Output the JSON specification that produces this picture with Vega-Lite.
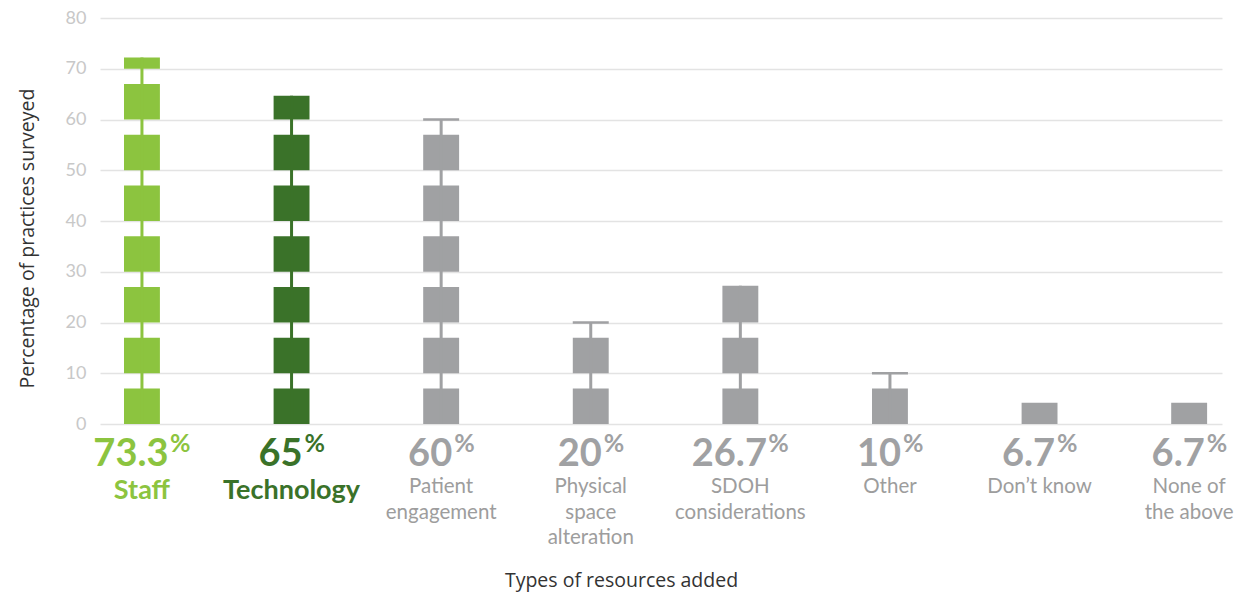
{
  "$schema": "https://vega.github.io/schema/vega-lite/v6.json",
  "autosize": "none",
  "width": 1122,
  "height": 406,
  "padding": {"left": 100, "top": 18, "right": 31, "bottom": 168},
  "background": "white",
  "config": {
    "view": {"stroke": null},
    "axisY": {"grid": true, "gridColor": "#e3e3e3", "gridWidth": 1.5, "domain": false, "ticks": false, "labelPadding": 14, "labelFont": "Lato", "labelFontSize": 18, "labelColor": "#c8c8c8", "titleFont": "Open Sans", "titleFontSize": 19.5, "titleFontWeight": "normal", "titleColor": "#333333", "titleAngle": -90, "titleX": -73, "titleY": 220, "titleAlign": "center", "titleBaseline": "middle"},
    "axisX": {"labels": false, "ticks": false, "domain": false, "grid": false, "titleFont": "Open Sans", "titleFontSize": 19.5, "titleFontWeight": "normal", "titleColor": "#333333", "titleX": 521, "titleY": 156, "titleAlign": "center", "titleBaseline": "middle"}
  },
  "datasets": {
    "cats": [
      {"cat": "Staff", "pct": "73.3", "name": "Staff"},
      {"cat": "Technology", "pct": "65", "name": "Technology"},
      {"cat": "Patient engagement", "pct": "60", "name": "Patient\nengagement"},
      {"cat": "Physical space alteration", "pct": "20", "name": "Physical\nspace\nalteration"},
      {"cat": "SDOH considerations", "pct": "26.7", "name": "SDOH\nconsiderations"},
      {"cat": "Other", "pct": "10", "name": "Other"},
      {"cat": "Don’t know", "pct": "6.7", "name": "Don’t know"},
      {"cat": "None of the above", "pct": "6.7", "name": "None of\nthe above"}
    ],
    "blocks": [
      {"cat": "Staff", "lo": 0, "hi": 7}, {"cat": "Staff", "lo": 10, "hi": 17}, {"cat": "Staff", "lo": 20, "hi": 27},
      {"cat": "Staff", "lo": 30, "hi": 37}, {"cat": "Staff", "lo": 40, "hi": 47}, {"cat": "Staff", "lo": 50, "hi": 57},
      {"cat": "Staff", "lo": 60, "hi": 67}, {"cat": "Staff", "lo": 70, "hi": 72.2},
      {"cat": "Technology", "lo": 0, "hi": 7}, {"cat": "Technology", "lo": 10, "hi": 17}, {"cat": "Technology", "lo": 20, "hi": 27},
      {"cat": "Technology", "lo": 30, "hi": 37}, {"cat": "Technology", "lo": 40, "hi": 47}, {"cat": "Technology", "lo": 50, "hi": 57},
      {"cat": "Technology", "lo": 60, "hi": 64.7},
      {"cat": "Patient engagement", "lo": 0, "hi": 7}, {"cat": "Patient engagement", "lo": 10, "hi": 17}, {"cat": "Patient engagement", "lo": 20, "hi": 27},
      {"cat": "Patient engagement", "lo": 30, "hi": 37}, {"cat": "Patient engagement", "lo": 40, "hi": 47}, {"cat": "Patient engagement", "lo": 50, "hi": 57},
      {"cat": "Physical space alteration", "lo": 0, "hi": 7}, {"cat": "Physical space alteration", "lo": 10, "hi": 17},
      {"cat": "SDOH considerations", "lo": 0, "hi": 7}, {"cat": "SDOH considerations", "lo": 10, "hi": 17}, {"cat": "SDOH considerations", "lo": 20, "hi": 27.25},
      {"cat": "Other", "lo": 0, "hi": 7},
      {"cat": "Don’t know", "lo": 0, "hi": 4.2},
      {"cat": "None of the above", "lo": 0, "hi": 4.2}
    ],
    "stems": [
      {"cat": "Staff", "top": 72.2},
      {"cat": "Technology", "top": 64.7},
      {"cat": "Patient engagement", "top": 60},
      {"cat": "Physical space alteration", "top": 20},
      {"cat": "SDOH considerations", "top": 27.25},
      {"cat": "Other", "top": 10}
    ],
    "caps": [
      {"cat": "Patient engagement", "value": 60},
      {"cat": "Physical space alteration", "value": 20},
      {"cat": "Other", "value": 10}
    ]
  },
  "layer": [
    {
      "data": {"name": "blocks"},
      "mark": {"type": "bar"},
      "encoding": {
        "x": {
          "field": "cat", "type": "nominal", "title": "Types of resources added",
          "scale": {"domain": ["Staff", "Technology", "Patient engagement", "Physical space alteration", "SDOH considerations", "Other", "Don’t know", "None of the above"], "paddingInner": 0.76, "paddingOuter": 0.13, "align": 0.617}
        },
        "y": {
          "field": "lo", "type": "quantitative", "title": "Percentage of practices surveyed",
          "scale": {"domain": [0, 80], "nice": false, "zero": true},
          "axis": {"values": [0, 10, 20, 30, 40, 50, 60, 70, 80]}
        },
        "y2": {"field": "hi"},
        "color": {
          "field": "cat", "type": "nominal", "legend": null,
          "scale": {"domain": ["Staff", "Technology", "Patient engagement", "Physical space alteration", "SDOH considerations", "Other", "Don’t know", "None of the above"], "range": ["#8cc43f", "#3a7229", "#a0a1a3", "#a0a1a3", "#a0a1a3", "#a0a1a3", "#a0a1a3", "#a0a1a3"]}
        }
      }
    },
    {
      "data": {"name": "stems"},
      "mark": {"type": "rule", "strokeWidth": 3},
      "encoding": {
        "x": {"field": "cat", "type": "nominal", "title": "Types of resources added"},
        "y": {"field": "top", "type": "quantitative", "title": "Percentage of practices surveyed"},
        "y2": {"datum": 0},
        "color": {"field": "cat", "type": "nominal", "legend": null}
      }
    },
    {
      "data": {"name": "caps"},
      "mark": {"type": "tick", "thickness": 2.5, "size": 36, "orient": "horizontal"},
      "encoding": {
        "x": {"field": "cat", "type": "nominal", "title": "Types of resources added"},
        "y": {"field": "value", "type": "quantitative", "title": "Percentage of practices surveyed"},
        "color": {"field": "cat", "type": "nominal", "legend": null},
        "opacity": {"value": 1}
      }
    },
    {
      "data": {"name": "cats"},
      "mark": {"type": "text", "font": "Lato", "fontSize": 38, "fontWeight": "bold", "align": "center", "baseline": "alphabetic", "dx": -11},
      "encoding": {
        "x": {"field": "cat", "type": "nominal", "title": "Types of resources added"},
        "y": {"datum": -8.2, "type": "quantitative", "title": "Percentage of practices surveyed"},
        "text": {"field": "pct"},
        "color": {"field": "cat", "type": "nominal", "legend": null}
      }
    },
    {
      "data": {"name": "cats"},
      "transform": [{"filter": "length(datum.pct) == 4"}],
      "mark": {"type": "text", "font": "Lato", "fontSize": 25, "fontWeight": "bold", "align": "left", "baseline": "alphabetic", "dx": 28},
      "encoding": {
        "x": {"field": "cat", "type": "nominal", "title": "Types of resources added"},
        "y": {"datum": -5.6, "type": "quantitative", "title": "Percentage of practices surveyed"},
        "text": {"value": "%"},
        "color": {"field": "cat", "type": "nominal", "legend": null}
      }
    },
    {
      "data": {"name": "cats"},
      "transform": [{"filter": "length(datum.pct) == 3"}],
      "mark": {"type": "text", "font": "Lato", "fontSize": 25, "fontWeight": "bold", "align": "left", "baseline": "alphabetic", "dx": 17.5},
      "encoding": {
        "x": {"field": "cat", "type": "nominal", "title": "Types of resources added"},
        "y": {"datum": -5.6, "type": "quantitative", "title": "Percentage of practices surveyed"},
        "text": {"value": "%"},
        "color": {"field": "cat", "type": "nominal", "legend": null}
      }
    },
    {
      "data": {"name": "cats"},
      "transform": [{"filter": "length(datum.pct) == 2"}],
      "mark": {"type": "text", "font": "Lato", "fontSize": 25, "fontWeight": "bold", "align": "left", "baseline": "alphabetic", "dx": 13},
      "encoding": {
        "x": {"field": "cat", "type": "nominal", "title": "Types of resources added"},
        "y": {"datum": -5.6, "type": "quantitative", "title": "Percentage of practices surveyed"},
        "text": {"value": "%"},
        "color": {"field": "cat", "type": "nominal", "legend": null}
      }
    },
    {
      "data": {"name": "cats"},
      "transform": [{"filter": "datum.cat == 'Staff' || datum.cat == 'Technology'"}],
      "mark": {"type": "text", "font": "Lato", "fontSize": 27, "fontWeight": "bold", "align": "center", "baseline": "alphabetic"},
      "encoding": {
        "x": {"field": "cat", "type": "nominal", "title": "Types of resources added"},
        "y": {"datum": -14.8, "type": "quantitative", "title": "Percentage of practices surveyed"},
        "text": {"field": "name"},
        "color": {"field": "cat", "type": "nominal", "legend": null}
      }
    },
    {
      "data": {"name": "cats"},
      "transform": [{"filter": "datum.cat != 'Staff' && datum.cat != 'Technology'"}],
      "mark": {"type": "text", "font": "Lato", "fontSize": 20.5, "fontWeight": "normal", "align": "center", "baseline": "alphabetic", "lineBreak": "\n", "lineHeight": 25.5, "color": "#9d9d9d"},
      "encoding": {
        "x": {"field": "cat", "type": "nominal", "title": "Types of resources added"},
        "y": {"datum": -13.64, "type": "quantitative", "title": "Percentage of practices surveyed"},
        "text": {"field": "name"}
      }
    }
  ]
}
